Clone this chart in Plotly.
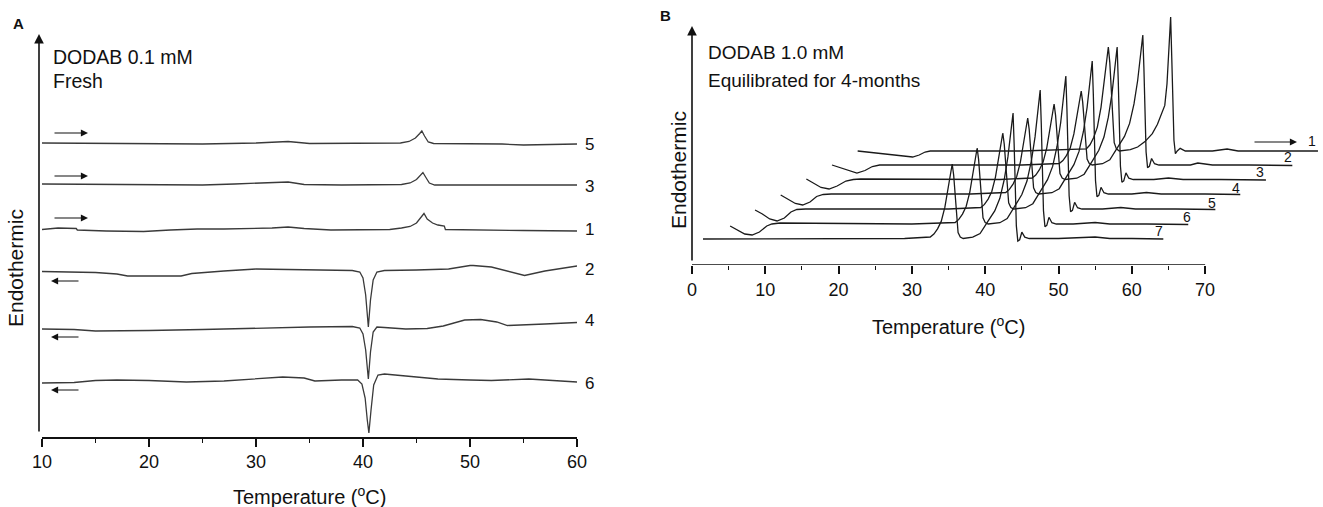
import plotly.graph_objects as go

W, H = 1323, 507

# ---------------- Panel A data (DODAB 0.1 mM, fresh) ----------------
A_T5 = [10, 15, 20, 25, 30, 33, 35, 40, 43.5, 44.3, 44.9, 45.3, 45.5, 45.75, 46.1, 46.6, 50, 53, 55, 57, 60]
A_Y5 = [29.4, 29.35, 29.3, 29.3, 29.4, 29.55, 29.35, 29.35, 29.4, 29.55, 29.9, 30.35, 30.6, 30.1, 29.5, 29.35, 29.35, 29.3, 29.2, 29.25, 29.3]

A_T3 = [10, 15, 20, 25, 28, 31, 33, 34.5, 38, 43.6, 44.4, 45.0, 45.4, 45.6, 45.85, 46.2, 46.7, 50, 55, 60]
A_Y3 = [25.3, 25.25, 25.2, 25.2, 25.3, 25.45, 25.5, 25.25, 25.2, 25.25, 25.4, 25.75, 26.2, 26.45, 26.0, 25.4, 25.2, 25.2, 25.2, 25.2]

A_T1 = [10, 11.5, 13.2, 13.3, 16, 19.5, 22, 24.5, 27, 29.5, 31.5, 33, 34.5, 37, 40, 42.5, 43.6, 44.4, 45.0, 45.4, 45.7, 46.0, 46.5, 47.0, 47.6, 47.7, 50, 55, 60]
A_Y1 = [20.75, 20.9, 20.85, 20.7, 20.6, 20.55, 20.7, 20.8, 20.8, 20.85, 20.9, 21.0, 20.85, 20.7, 20.7, 20.75, 20.9, 21.05, 21.4, 21.9, 22.35, 21.8, 21.4, 21.2, 21.1, 20.75, 20.7, 20.65, 20.6]

A_T2 = [10, 13, 15, 17, 18, 23, 24, 27, 30, 33, 36, 39, 39.7, 40.0, 40.25, 40.5, 40.7, 40.95, 41.3, 42, 45, 48, 50.0, 50.3, 52, 54, 55.1, 57, 60]
A_Y2 = [16.55, 16.5, 16.45, 16.3, 16.1, 16.1, 16.35, 16.6, 16.8, 16.75, 16.7, 16.65, 16.5, 15.9, 14.2, 11.0, 13.7, 15.7, 16.5, 16.65, 16.7, 16.8, 17.15, 17.15, 17.0, 16.5, 16.15, 16.6, 17.1]

A_T4 = [10, 13, 15, 18, 20, 25, 30, 35, 39, 39.7, 40.0, 40.25, 40.5, 40.7, 40.95, 41.3, 42, 44, 46, 47.5, 49.5, 51, 52.5, 53.5, 57, 60]
A_Y4 = [10.8, 10.75, 10.6, 10.6, 10.65, 10.75, 10.9, 11.0, 11.05, 10.9, 10.3, 8.7, 5.8, 8.5, 10.5, 11.0, 10.95, 10.8, 10.85, 11.1, 11.7, 11.75, 11.5, 11.15, 11.3, 11.45]

A_T6 = [10, 13, 15, 17, 20, 23.5, 27, 30, 32.5, 34.5, 35.5, 38, 39.5, 39.9, 40.2, 40.4, 40.55, 40.75, 41.0, 41.4, 42, 44, 47, 50, 52, 55.5, 58, 60]
A_Y6 = [5.4, 5.45, 5.65, 5.7, 5.65, 5.5, 5.6, 5.8, 6.0, 5.9, 5.6, 5.7, 5.7, 5.3, 3.9, 1.7, 0.4, 2.7, 5.2, 6.2, 6.3, 6.1, 5.8, 5.7, 5.65, 5.8, 5.6, 5.5]

A_TICKS = [10, 20, 30, 40, 50, 60]
A_MINOR = [15, 25, 35, 45, 55]

# ---------------- Panel B data (DODAB 1.0 mM, 4 months) ----------------
B_T7 = [1.5, 8, 15, 22, 29, 32.5, 33.0, 33.5, 34.0, 34.5, 35.0, 35.3, 35.5, 35.7, 35.9, 36.1, 36.3, 36.6, 37.0, 38.3, 39.3, 40.3, 41.3, 42.0, 42.6, 43.1, 43.5, 43.8, 43.95, 44.1, 44.25, 44.45, 44.7, 45.0, 45.4, 46.0, 50, 55, 57, 60, 64.3]
B_Y7 = [2.6, 2.6, 2.65, 2.65, 2.65, 2.80, 3.10, 3.62, 4.36, 5.78, 7.87, 9.50, 10.10, 8.98, 6.75, 4.51, 3.25, 2.80, 2.65, 2.78, 3.15, 4.28, 5.41, 6.67, 8.55, 10.81, 13.32, 15.20, 12.06, 7.67, 3.91, 2.40, 2.52, 3.28, 2.78, 2.65, 2.65, 2.8, 2.65, 2.65, 2.6]

B_T6 = [5.2, 6.2, 7.2, 8.2, 9.2, 10.2, 10.9, 12, 20, 30, 35.9, 36.4, 36.9, 37.4, 37.9, 38.4, 38.7, 38.9, 39.1, 39.3, 39.5, 39.7, 40.0, 40.4, 42.0, 43.0, 44.0, 45.0, 45.7, 46.3, 46.8, 47.2, 47.5, 47.65, 47.8, 47.95, 48.15, 48.4, 48.7, 49.1, 49.7, 52, 55, 57, 62, 67.7]
B_Y6 = [3.9, 3.5, 3.1, 3.0, 3.3, 3.9, 4.1, 4.2, 4.15, 4.1, 4.25, 4.56, 5.09, 5.85, 7.29, 9.42, 11.09, 11.70, 10.56, 8.28, 6.00, 4.71, 4.25, 4.10, 4.23, 4.64, 5.84, 7.05, 8.39, 10.40, 12.81, 15.49, 17.50, 14.15, 9.46, 5.44, 3.83, 3.97, 4.77, 4.23, 4.10, 4.1, 4.25, 4.1, 4.1, 4.05]

B_T5 = [8.6, 9.6, 10.6, 11.6, 12.6, 13.5, 14.3, 15.5, 25, 35, 39.4, 39.9, 40.4, 40.9, 41.4, 41.9, 42.2, 42.4, 42.6, 42.8, 43.0, 43.2, 43.5, 43.9, 45.5, 46.5, 47.5, 48.5, 49.2, 49.8, 50.3, 50.7, 51.0, 51.15, 51.3, 51.45, 51.65, 51.9, 52.2, 52.6, 53.2, 56, 58.5, 60.5, 66, 71.4]
B_Y5 = [5.5, 5.1, 4.6, 4.4, 4.7, 5.3, 5.55, 5.6, 5.6, 5.6, 5.75, 6.06, 6.59, 7.35, 8.79, 10.92, 12.59, 13.20, 12.06, 9.78, 7.50, 6.21, 5.75, 5.60, 5.73, 6.13, 7.33, 8.53, 9.86, 11.85, 14.25, 16.91, 18.90, 15.58, 10.92, 6.93, 5.33, 5.47, 6.27, 5.73, 5.60, 5.6, 5.75, 5.6, 5.6, 5.55]

B_T4 = [12.1, 13.1, 14.1, 15.1, 16.1, 17.0, 17.9, 19, 28, 38, 42.8, 43.3, 43.8, 44.3, 44.8, 45.3, 45.6, 45.8, 46.0, 46.2, 46.4, 46.6, 46.9, 47.3, 49.1, 50.1, 51.1, 52.1, 52.8, 53.4, 53.9, 54.3, 54.6, 54.75, 54.9, 55.05, 55.25, 55.5, 55.8, 56.2, 56.8, 60, 62, 64, 70, 74.8]
B_Y4 = [7.0, 6.6, 6.15, 6.0, 6.3, 6.85, 7.05, 7.1, 7.1, 7.1, 7.25, 7.56, 8.09, 8.85, 10.29, 12.42, 14.09, 14.70, 13.56, 11.28, 9.00, 7.71, 7.25, 7.10, 7.23, 7.63, 8.83, 10.03, 11.36, 13.35, 15.75, 18.41, 20.40, 17.08, 12.42, 8.43, 6.83, 6.97, 7.77, 7.23, 7.10, 7.1, 7.25, 7.1, 7.1, 7.05]

B_T3 = [15.6, 16.6, 17.6, 18.7, 19.8, 21.0, 22.0, 23, 32, 42, 46.4, 46.9, 47.4, 47.9, 48.4, 48.9, 49.2, 49.4, 49.6, 49.8, 50.0, 50.2, 50.5, 50.9, 52.5, 53.5, 54.5, 55.5, 56.2, 56.8, 57.3, 57.7, 58.0, 58.15, 58.3, 58.45, 58.65, 58.9, 59.2, 59.6, 60.2, 63, 65, 67, 72, 78.3]
B_Y3 = [8.6, 8.2, 7.75, 7.6, 7.9, 8.4, 8.55, 8.6, 8.55, 8.55, 8.70, 9.00, 9.53, 10.29, 11.72, 13.84, 15.50, 16.10, 14.97, 12.70, 10.44, 9.15, 8.70, 8.55, 8.68, 9.08, 10.27, 11.47, 12.79, 14.78, 17.16, 19.81, 21.80, 18.49, 13.85, 9.88, 8.28, 8.42, 9.21, 8.68, 8.55, 8.55, 8.7, 8.55, 8.55, 8.5]

B_T2 = [19.1, 20.3, 21.4, 22.5, 23.6, 24.6, 25.6, 27, 36, 45, 50.1, 50.6, 51.1, 51.6, 52.1, 52.6, 52.9, 53.1, 53.3, 53.5, 53.7, 53.9, 54.2, 54.6, 56.0, 57.0, 58.0, 59.0, 59.7, 60.3, 60.8, 61.2, 61.5, 61.65, 61.8, 61.95, 62.15, 62.4, 62.7, 63.1, 63.7, 68, 69.0, 71, 76, 81.9]
B_Y2 = [10.0, 9.7, 9.4, 9.2, 9.45, 9.85, 10.0, 10.0, 10.0, 10.0, 10.15, 10.44, 10.96, 11.70, 13.11, 15.18, 16.81, 17.40, 16.29, 14.07, 11.85, 10.59, 10.15, 10.00, 10.13, 10.52, 11.69, 12.86, 14.16, 16.11, 18.45, 21.05, 23.00, 19.75, 15.20, 11.30, 9.74, 9.87, 10.65, 10.13, 10.00, 10.0, 10.2, 10.0, 10.0, 9.95]

B_T1 = [22.6, 24.5, 26.5, 28.5, 30.1, 31.0, 31.8, 32.5, 35, 45, 53.8, 54.3, 54.8, 55.3, 55.8, 56.3, 56.6, 56.8, 57.0, 57.2, 57.4, 57.6, 57.9, 58.3, 59.8, 60.8, 61.8, 62.8, 63.5, 64.1, 64.5, 64.8, 65.05, 65.3, 65.45, 65.6, 65.75, 65.95, 66.2, 66.6, 67.3, 71, 73.0, 74.5, 80, 85.4]
B_Y1 = [11.4, 11.25, 11.1, 10.95, 10.8, 11.0, 11.3, 11.4, 11.4, 11.4, 11.61, 12.02, 12.75, 13.79, 15.77, 18.68, 20.97, 21.80, 20.24, 17.12, 14.00, 12.23, 11.61, 11.40, 11.53, 11.80, 12.34, 13.14, 14.08, 15.15, 15.96, 18.10, 21.45, 24.80, 20.78, 16.09, 12.47, 11.13, 11.40, 11.67, 11.40, 11.4, 11.6, 11.4, 11.4, 11.4]

B_TICKS = [0, 10, 20, 30, 40, 50, 60, 70]
B_MINOR = [5, 15, 25, 35, 45, 55, 65]

# ---------------- helpers (layout only) ----------------
def xp(px):
    return px / W

def yp(py):
    return 1 - py / H

FONT = "Liberation Sans, Arial, sans-serif"
A_COL = "#3a3a3a"
B_COL = "#1a1a1a"

fig = go.Figure()

a_curves = [(A_T5, A_Y5), (A_T3, A_Y3), (A_T1, A_Y1), (A_T2, A_Y2), (A_T4, A_Y4), (A_T6, A_Y6)]
for t, y in a_curves:
    fig.add_trace(go.Scatter(x=t, y=y, mode="lines", line=dict(color=A_COL, width=1.3),
                             xaxis="x", yaxis="y", showlegend=False, hoverinfo="skip"))

b_curves = [(B_T7, B_Y7), (B_T6, B_Y6), (B_T5, B_Y5), (B_T4, B_Y4), (B_T3, B_Y3), (B_T2, B_Y2), (B_T1, B_Y1)]
for t, y in b_curves:
    fig.add_trace(go.Scatter(x=t, y=y, mode="lines", line=dict(color=B_COL, width=1.3),
                             xaxis="x2", yaxis="y2", showlegend=False, hoverinfo="skip"))

# axis geometry (pixels)
A_X0, A_X1, A_AXY, A_TOP = 42, 577, 437, 20
B_X0, B_AXY, B_TOP = 692, 265, 5
B_PXPERDEG = 7.33
B_XMAX = 86

tickfont = dict(family=FONT, size=18, color="#111")

fig.update_layout(
    width=W, height=H, autosize=False,
    margin=dict(l=0, r=0, t=0, b=0, pad=0, autoexpand=False),
    paper_bgcolor="white", plot_bgcolor="white",
    font=dict(family=FONT, color="#111"),
    xaxis=dict(domain=[xp(A_X0), xp(A_X1)], range=[10, 60], tickmode="array", tickvals=A_TICKS,
               ticks="outside", ticklen=8, tickwidth=1.5, tickcolor="#111",
               showline=True, linecolor="#111", linewidth=1.5, showgrid=False, zeroline=False,
               tickfont=tickfont, anchor="y",
               minor=dict(tickmode="array", tickvals=A_MINOR, ticks="outside", ticklen=4, tickwidth=1.3, tickcolor="#111")),
    yaxis=dict(domain=[yp(A_AXY), yp(A_TOP)], range=[0, (A_AXY - A_TOP) / 10], visible=False, anchor="x"),
    xaxis2=dict(domain=[xp(B_X0), min(1.0, xp(B_X0 + B_XMAX * B_PXPERDEG))], range=[0, B_XMAX],
                tickmode="array", tickvals=B_TICKS,
                ticks="outside", ticklen=8, tickwidth=1.5, tickcolor="#111",
                showline=False, showgrid=False, zeroline=False, tickfont=tickfont, anchor="y2",
                minor=dict(tickmode="array", tickvals=B_MINOR, ticks="outside", ticklen=4, tickwidth=1.3, tickcolor="#111")),
    yaxis2=dict(domain=[yp(B_AXY), yp(B_TOP)], range=[0, (B_AXY - B_TOP) / 10], visible=False, anchor="x2"),
)

# panel B x-axis line only from 0 to 70
fig.add_shape(type="line", xref="x2", yref="y2", x0=0, x1=70, y0=0, y1=0,
              line=dict(color="#111", width=1.5))

ann = []

def text(px, py, s, size, xanchor="center", bold=False, angle=0):
    ann.append(dict(x=xp(px), y=yp(py), xref="paper", yref="paper", text=("<b>%s</b>" % s) if bold else s,
                    showarrow=False, xanchor=xanchor, yanchor="middle", textangle=angle, borderpad=0,
                    font=dict(family=FONT, size=size, color="#111")))

def arrow(hx, hy, tx, ty, width=1.2, size=1.0, head=2):
    # head/tail in pixel positions of the figure
    ann.append(dict(x=xp(hx), y=yp(hy), xref="paper", yref="paper", ax=tx - hx, ay=ty - hy,
                    axref="pixel", ayref="pixel", text="", showarrow=True, arrowhead=head,
                    arrowsize=size, arrowwidth=width, arrowcolor="#111", standoff=0, startstandoff=0))

# Panel A texts
text(18, 23, "A", 15, bold=True)
text(52, 57, "DODAB 0.1 mM", 19.5, xanchor="left")
text(52, 81, "Fresh", 19.5, xanchor="left")
text(15, 268, "Endothermic", 21, angle=-90)
text((A_X0 + A_X1) / 2, 495, "Temperature (<sup>o</sup>C)", 20)

# Panel A y-axis arrow
arrow(39, 34, 39, 433, width=1.6, size=1.2)

# Panel A scan direction arrows
for py in (133, 176, 218):
    arrow(88, py, 53, py, width=1.1, size=1.3)
for py in (281, 337, 390):
    arrow(51, py, 80, py, width=1.1, size=1.3)

# Panel A curve labels
for lab, py in (("5", 144), ("3", 186), ("1", 229), ("2", 269), ("4", 320), ("6", 383)):
    text(584, py, lab, 17, xanchor="left")

# Panel B texts
text(665, 15, "B", 15, bold=True)
text(707, 53, "DODAB 1.0 mM", 19, xanchor="left")
text(707, 80, "Equilibrated for 4-months", 19, xanchor="left")
text(679, 170, "Endothermic", 21, angle=-90)
text(B_X0 + 35 * B_PXPERDEG, 325, "Temperature (<sup>o</sup>C)", 20)

arrow(692, 26, 692, 262, width=1.6, size=1.2)
arrow(1297, 142, 1253, 142, width=1.1, size=1.3)

for lab, px, py in (("1", 1312, 141), ("2", 1288, 157), ("3", 1260, 172), ("4", 1236, 188),
                    ("5", 1212, 203), ("6", 1187, 217), ("7", 1159, 231)):
    text(px, py, lab, 14)

fig.update_layout(annotations=ann)

fig.write_html("out.html", config={"displayModeBar": False},
               post_script="document.body.style.margin='0px';")
